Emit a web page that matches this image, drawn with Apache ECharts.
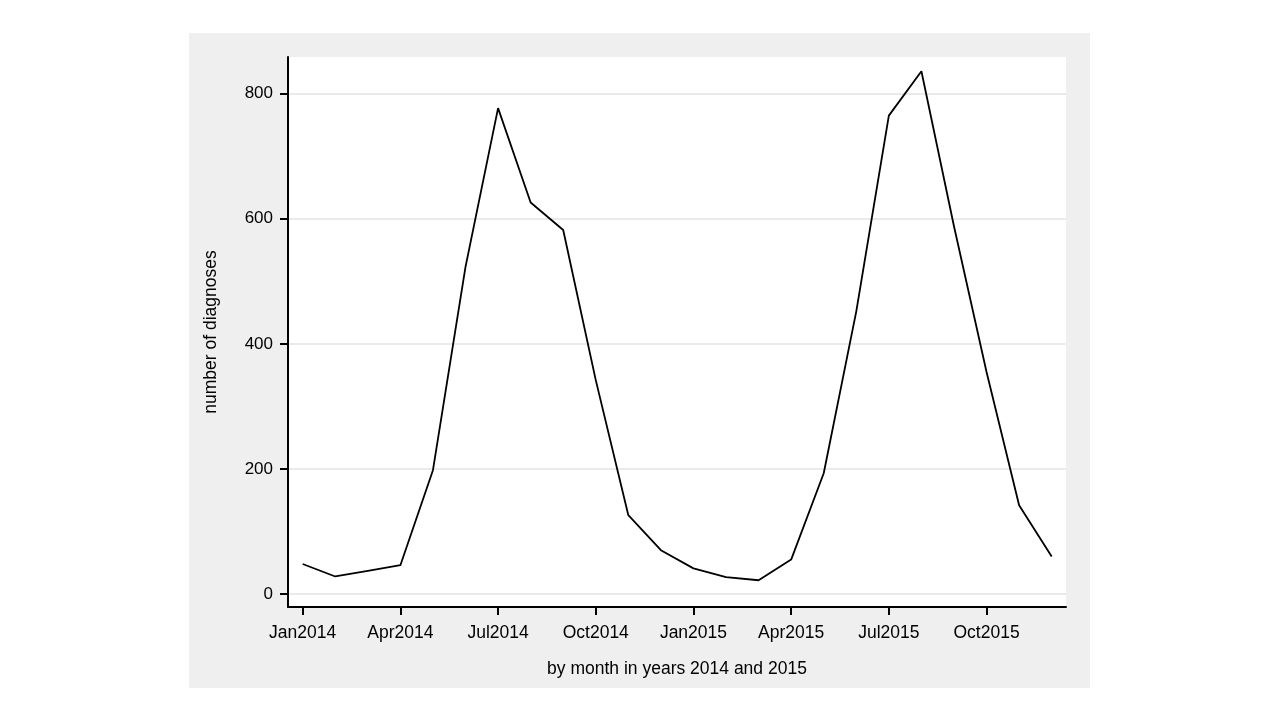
<!DOCTYPE html>
<html>
<head>
<meta charset="utf-8">
<script src="https://cdn.jsdelivr.net/npm/echarts@6/dist/echarts.min.js"></script>
<style>
  html, body { margin: 0; padding: 0; background: #ffffff; }
  #bg { position: absolute; left: 189px; top: 33px; width: 901px; height: 655px; background: #efefef; }
  #chart { position: absolute; left: 0; top: 0; width: 1280px; height: 720px; }
</style>
</head>
<body>
<div id="bg"></div>
<div id="chart"></div>
<script>
// Monthly diagnoses, Jan 2014 .. Dec 2015
const months = ['Jan2014','Feb2014','Mar2014','Apr2014','May2014','Jun2014','Jul2014','Aug2014','Sep2014','Oct2014','Nov2014','Dec2014',
                'Jan2015','Feb2015','Mar2015','Apr2015','May2015','Jun2015','Jul2015','Aug2015','Sep2015','Oct2015','Nov2015','Dec2015'];
const diagnoses = [48, 28, 37, 46, 198, 523, 777, 626, 582, 342, 126, 70,
                   41, 27, 22, 55, 193, 452, 765, 836, 588, 355, 142, 60];
const xTickIndex = [0, 3, 6, 9, 12, 15, 18, 21];
const xTickLabels = ['Jan2014','Apr2014','Jul2014','Oct2014','Jan2015','Apr2015','Jul2015','Oct2015'];
const yTicks = [0, 200, 400, 600, 800];

const seriesData = months.map((m, i) => [i, diagnoses[i]]);
const font = "'Liberation Sans', Arial, sans-serif";

const chart = echarts.init(document.getElementById('chart'), null, { renderer: 'canvas' });
chart.setOption({
  animation: false,
  grid: {
    left: 288, top: 57, width: 778, height: 550,
    show: true, backgroundColor: '#ffffff', borderWidth: 0
  },
  xAxis: {
    type: 'value',
    min: -0.451, max: 23.44,
    name: 'by month in years 2014 and 2015',
    nameLocation: 'middle',
    nameGap: 53,
    nameTextStyle: { color: '#000', fontSize: 17.5, fontFamily: font },
    axisLine: { show: true, onZero: false, lineStyle: { color: '#000', width: 2 } },
    axisTick: { show: true, length: 8, customValues: xTickIndex, lineStyle: { color: '#000', width: 2 } },
    axisLabel: {
      customValues: xTickIndex,
      margin: 17,
      color: '#000', fontSize: 17.5, fontFamily: font,
      formatter: (v) => xTickLabels[xTickIndex.indexOf(Math.round(v))] || ''
    },
    splitLine: { show: false }
  },
  yAxis: {
    type: 'value',
    min: -20.8, max: 858.7,
    name: 'number of diagnoses',
    nameLocation: 'middle',
    nameGap: 68,
    nameRotate: 90,
    nameTextStyle: { color: '#000', fontSize: 17.5, fontFamily: font },
    axisLine: { show: true, onZero: false, lineStyle: { color: '#000', width: 2 } },
    axisTick: { show: true, length: 8, customValues: yTicks, lineStyle: { color: '#000', width: 2 } },
    axisLabel: { customValues: yTicks, margin: 15, color: '#000', fontSize: 17, fontFamily: font },
    splitLine: { show: true, lineStyle: { color: '#e3e3e3', width: 1.5 } }
  },
  series: [{
    type: 'line',
    data: seriesData,
    symbol: 'none',
    lineStyle: { color: '#000', width: 1.8 },
    z: 3
  }]
});
</script>
</body>
</html>
